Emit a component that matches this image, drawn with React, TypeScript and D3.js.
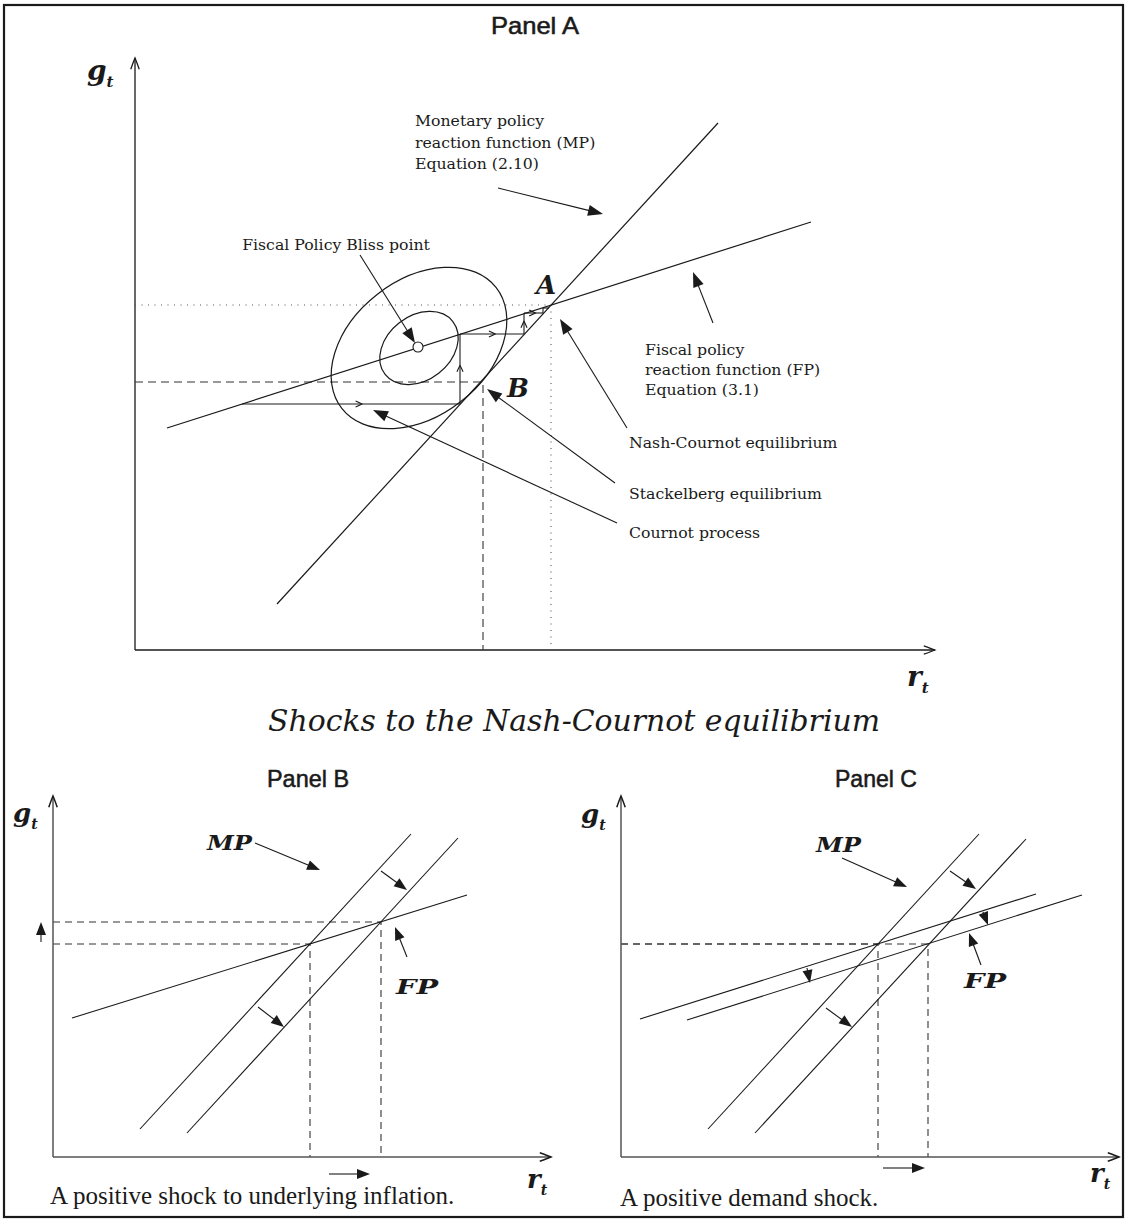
import React from "react";
import * as d3 from "d3";

type P = [number, number];
type Seg = [P, P];

// ---------- Panel A (r, g measured from the origin, diagram units) ----------
const axisMaxA: P = [800, 592];
const mpLineA: Seg = [[142, 46], [583, 527]];
const fpLineA: Seg = [[32, 222], [676, 428]];
const nashPointA: P = [416, 345];
const stackelbergPointB: P = [348, 268];
const blissPoint: P = [283, 303];
const blissRadius = 5;
const indifferenceCurves = [
  { c: [284, 302] as P, a: 43, b: 32, angle: 38 },
  { c: [284, 302] as P, a: 98, b: 68, angle: 38 },
];
const cournotSteps: P[] = [
  [107, 246], [325, 246], [325, 316], [389, 316], [389, 337],
  [408, 337], [408, 342], [414, 342],
];
const annotationArrowsA: Seg[] = [
  [[363, 462], [468, 436]], // MP
  [[225, 395], [280, 307]], // Bliss point
  [[578, 327], [558, 378]], // FP
  [[492, 222], [425, 331]], // Nash-Cournot
  [[480, 167], [352, 261]], // Stackelberg
  [[482, 127], [238, 240]], // Cournot process
];
const mpTextA = ["Monetary policy", "reaction function (MP)", "Equation (2.10)"];
const fpTextA = ["Fiscal policy", "reaction function (FP)", "Equation (3.1)"];
const calloutsA = ["Nash-Cournot equilibrium", "Stackelberg equilibrium", "Cournot process"];

// ---------- Panel B ----------
const axisMaxBC: P = [498, 361];
const fpLineB: Seg = [[19, 139], [414, 262]];
const mpLinesB: Seg[] = [
  [[87, 28], [358, 323]],
  [[134, 24], [405, 319]],
];
const equilibriaB: P[] = [[257, 213], [328, 235]];
const annotationArrowsB: Seg[] = [
  [[202, 314], [267, 287]], // MP label
  [[328, 286], [354, 267]], // MP shift (upper)
  [[205, 150], [231, 130]], // MP shift (lower)
  [[354, 200], [342, 230]], // FP label
  [[276, -17], [317, -17]], // r shift
  [[-12, 215], [-12, 235]], // g shift
];

// ---------- Panel C ----------
const fpLinesC: Seg[] = [
  [[19, 138], [415, 263]],
  [[66, 137], [461, 262]],
];
const mpLinesC: Seg[] = [
  [[87, 28], [358, 323]],
  [[134, 24], [405, 318]],
];
const equilibriaC: P[] = [[257, 213], [307, 213]];
const annotationArrowsC: Seg[] = [
  [[221, 299], [286, 270]], // MP label
  [[329, 286], [355, 268]], // MP shift (upper)
  [[205, 149], [231, 130]], // MP shift (lower)
  [[362, 245], [367, 232]], // FP shift (upper)
  [[186, 189], [189, 174]], // FP shift (lower)
  [[360, 192], [348, 224]], // FP label
  [[262, -11], [304, -11]], // r shift
];

// ---------- scales ----------
const xA = d3.scaleLinear().domain([0, axisMaxA[0]]).range([135, 935]);
const yA = d3.scaleLinear().domain([0, axisMaxA[1]]).range([650, 58]);
const xB = d3.scaleLinear().domain([0, axisMaxBC[0]]).range([53, 551]);
const yB = d3.scaleLinear().domain([0, axisMaxBC[1]]).range([1157, 796]);
const xC = d3.scaleLinear().domain([0, axisMaxBC[0]]).range([621, 1119]);
const yC = d3.scaleLinear().domain([0, axisMaxBC[1]]).range([1157, 796]);

type S = d3.ScaleLinear<number, number>;

const INK = "#1a1a1a";
const SERIF = "'DejaVu Serif', serif";
const TIMES = "'Liberation Serif', 'Times New Roman', serif";
const SANS = "'Liberation Sans Narrow', 'Liberation Sans', Arial, sans-serif";

function pathOf(pts: P[], sx: S, sy: S) {
  return d3.line<P>().x((d) => sx(d[0])).y((d) => sy(d[1]))(pts) || "";
}

function FilledArrow({ seg, sx, sy, len = 13, half = 4.6, sw = 1 }: { seg: Seg; sx: S; sy: S; len?: number; half?: number; sw?: number }) {
  const x1 = sx(seg[0][0]), y1 = sy(seg[0][1]);
  const x2 = sx(seg[1][0]), y2 = sy(seg[1][1]);
  const L = Math.hypot(x2 - x1, y2 - y1);
  const ux = (x2 - x1) / L, uy = (y2 - y1) / L;
  const bx = x2 - ux * len, by = y2 - uy * len;
  const nx = -uy, ny = ux;
  return (
    <g>
      <line x1={x1} y1={y1} x2={bx + ux * 2} y2={by + uy * 2} stroke={INK} strokeWidth={sw} />
      <polygon
        points={`${x2},${y2} ${bx + nx * half},${by + ny * half} ${bx - nx * half},${by - ny * half}`}
        fill={INK}
      />
    </g>
  );
}

function OpenHead({ x, y, ux, uy, len = 7, spread = 0.42, sw = 1 }: { x: number; y: number; ux: number; uy: number; len?: number; spread?: number; sw?: number }) {
  const c = Math.cos(spread), s = Math.sin(spread);
  const ax = -ux, ay = -uy;
  const r1x = ax * c - ay * s, r1y = ax * s + ay * c;
  const r2x = ax * c + ay * s, r2y = -ax * s + ay * c;
  const d = `M${x + r1x * len},${y + r1y * len} Q${x + r1x * len * 0.35 + ux * 0.5},${y + r1y * len * 0.35 + uy * 0.5} ${x},${y} Q${x + r2x * len * 0.35 + ux * 0.5},${y + r2y * len * 0.35 + uy * 0.5} ${x + r2x * len},${y + r2y * len}`;
  return <path d={d} fill="none" stroke={INK} strokeWidth={sw} />;
}

function Axes({ sx, sy, max, color = INK, sw = 1.3 }: { sx: S; sy: S; max: P; color?: string; sw?: number }) {
  const ox = sx(0), oy = sy(0);
  const tx = sx(max[0]), ty = sy(max[1]);
  return (
    <g stroke={color}>
      <line x1={ox} y1={oy} x2={tx} y2={oy} strokeWidth={sw} />
      <line x1={ox} y1={oy} x2={ox} y2={ty} strokeWidth={sw} />
      <g>
        <OpenHead x={tx} y={oy} ux={1} uy={0} len={12} spread={0.36} sw={sw} />
        <OpenHead x={ox} y={ty} ux={0} uy={-1} len={12} spread={0.36} sw={sw} />
      </g>
    </g>
  );
}

function MathLabel({ x, y, main, sub, size = 28, subSize = 16, dx = 0 }: { x: number; y: number; main: string; sub?: string; size?: number; subSize?: number; dx?: number }) {
  return (
    <text x={x} y={y} fontFamily={SERIF} fontWeight="bold" fontStyle="italic" fontSize={size} fill={INK}>
      {main}
      {sub ? (
        <tspan dx={dx} dy={size * 0.25} fontSize={subSize} fontWeight="bold">
          {sub}
        </tspan>
      ) : null}
    </text>
  );
}

function PanelTitle({ x, y, text, w }: { x: number; y: number; text: string; w: number }) {
  return (
    <text x={x} y={y} textAnchor="middle" fontFamily={SANS} fontSize={24} fill={INK} stroke={INK} strokeWidth={0.55} textLength={w} lengthAdjust="spacingAndGlyphs">
      {text}
    </text>
  );
}

function PanelA() {
  const sx = xA, sy = yA;
  const [rA, gA] = nashPointA;
  const [rB, gB] = stackelbergPointB;
  const steps: JSX.Element[] = [];
  for (let i = 0; i < cournotSteps.length - 1; i++) {
    const p = cournotSteps[i], q = cournotSteps[i + 1];
    const x1 = sx(p[0]), y1 = sy(p[1]), x2 = sx(q[0]), y2 = sy(q[1]);
    const L = Math.hypot(x2 - x1, y2 - y1);
    steps.push(<line key={"s" + i} x1={x1} y1={y1} x2={x2} y2={y2} stroke={INK} strokeWidth={1.1} />);
    if (L > 9) {
      const t = L > 40 ? 0.55 : 0.6;
      steps.push(
        <OpenHead key={"h" + i} x={x1 + (x2 - x1) * t} y={y1 + (y2 - y1) * t} ux={(x2 - x1) / L} uy={(y2 - y1) / L} len={7} spread={0.45} sw={1.1} />
      );
    }
  }
  return (
    <g>
      <PanelTitle x={535} y={34} text="Panel A" w={88} />
      <Axes sx={sx} sy={sy} max={axisMaxA} />
      <MathLabel x={87} y={80} main="g" sub="t" size={28} subSize={15} />
      <MathLabel x={907} y={686} main="r" sub="t" size={28} subSize={15} />

      <path d={pathOf([[0, gA], [rA, gA], [rA, 0]], sx, sy)} fill="none" stroke="#555" strokeWidth={1.1} strokeDasharray="1 5.5" />
      <path d={pathOf([[0, gB], [rB, gB], [rB, 0]], sx, sy)} fill="none" stroke="#333" strokeWidth={1.1} strokeDasharray="8 5" />

      {indifferenceCurves.map((e, i) => (
        <ellipse
          key={i}
          cx={sx(e.c[0])}
          cy={sy(e.c[1])}
          rx={sx(e.a) - sx(0)}
          ry={sy(0) - sy(e.b)}
          transform={`rotate(${-e.angle} ${sx(e.c[0])} ${sy(e.c[1])})`}
          fill="none"
          stroke={INK}
          strokeWidth={1.2}
        />
      ))}

      <path d={pathOf(mpLineA, sx, sy)} stroke={INK} strokeWidth={1.2} fill="none" />
      <path d={pathOf(fpLineA, sx, sy)} stroke={INK} strokeWidth={1.2} fill="none" />

      {steps}

      <circle cx={sx(blissPoint[0])} cy={sy(blissPoint[1])} r={blissRadius} fill="#fff" stroke={INK} strokeWidth={1.1} />

      {annotationArrowsA.map((s, i) => (
        <FilledArrow key={i} seg={s} sx={sx} sy={sy} len={15} half={5.5} sw={1.1} />
      ))}

      <text x={536} y={294} fontFamily={SERIF} fontWeight="bold" fontStyle="italic" fontSize={26} fill={INK}>A</text>
      <text x={507} y={397} fontFamily={SERIF} fontWeight="bold" fontStyle="italic" fontSize={26} fill={INK}>B</text>

      <g fontFamily={SERIF} fontSize={15.7} fill={INK}>
        {mpTextA.map((t, i) => (
          <text key={t} x={415} y={126 + i * 21.5}>{t}</text>
        ))}
        <text x={336} y={250} textAnchor="middle">Fiscal Policy Bliss point</text>
        {fpTextA.map((t, i) => (
          <text key={t} x={645} y={355 + i * 20}>{t}</text>
        ))}
        <text x={629} y={448}>{calloutsA[0]}</text>
        <text x={629} y={499}>{calloutsA[1]}</text>
        <text x={629} y={538}>{calloutsA[2]}</text>
      </g>
    </g>
  );
}

function ShockPanel({
  sx, sy, title, titleX, mpLines, fpLines, equilibria, arrows, mpLabel, fpLabel, gLabel, rLabel, caption, captionX, captionY,
}: {
  sx: S; sy: S; title: string; titleX: number; mpLines: Seg[]; fpLines: Seg[]; equilibria: P[]; arrows: Seg[];
  mpLabel: P; fpLabel: P; gLabel: P; rLabel: P; caption: string; captionX: number; captionY: number;
}) {
  return (
    <g>
      <PanelTitle x={titleX} y={787} text={title} w={82} />
      {equilibria.map((e, i) => (
        <path key={i} d={pathOf([[0, e[1]], e, [e[0], 0]], sx, sy)} fill="none" stroke="#333" strokeWidth={1.1} strokeDasharray="7 5" />
      ))}
      <Axes sx={sx} sy={sy} max={axisMaxBC} color="#555" sw={1.5} />
      {mpLines.map((l, i) => (
        <path key={"m" + i} d={pathOf(l, sx, sy)} stroke={INK} strokeWidth={1.1} fill="none" />
      ))}
      {fpLines.map((l, i) => (
        <path key={"f" + i} d={pathOf(l, sx, sy)} stroke={INK} strokeWidth={1.1} fill="none" />
      ))}
      {arrows.map((s, i) => (
        <FilledArrow key={i} seg={s} sx={sx} sy={sy} len={13} half={5} sw={1.1} />
      ))}
      <text x={mpLabel[0]} y={mpLabel[1]} fontFamily={SERIF} fontWeight="bold" fontStyle="italic" fontSize={21} fill={INK} textLength={45} lengthAdjust="spacingAndGlyphs">MP</text>
      <text x={fpLabel[0]} y={fpLabel[1]} fontFamily={SERIF} fontWeight="bold" fontStyle="italic" fontSize={21} fill={INK} textLength={42} lengthAdjust="spacingAndGlyphs">FP</text>
      <MathLabel x={gLabel[0]} y={gLabel[1]} main="g" sub="t" size={26} subSize={14} />
      <MathLabel x={rLabel[0]} y={rLabel[1]} main="r" sub="t" size={26} subSize={14} />
      <text x={captionX} y={captionY} fontFamily={TIMES} fontSize={25} fill={INK}>{caption}</text>
    </g>
  );
}

export default function App() {
  return (
    <svg width={1126} height={1220} viewBox="0 0 1126 1220" style={{ position: "absolute", left: 0, top: 0, background: "#fff" }}>
      <rect x={0} y={0} width={1126} height={1220} fill="#fff" />
      <rect x={4} y={5} width={1119} height={1212} fill="none" stroke={INK} strokeWidth={2.2} />
      <PanelA />
      <text x={574} y={731} textAnchor="middle" fontFamily={SERIF} fontStyle="italic" fontSize={29} fill={INK} textLength={612} lengthAdjust="spacingAndGlyphs">
        Shocks to the Nash-Cournot equilibrium
      </text>
      <ShockPanel
        sx={xB} sy={yB} title="Panel B" titleX={308}
        mpLines={mpLinesB} fpLines={[fpLineB]} equilibria={equilibriaB} arrows={annotationArrowsB}
        mpLabel={[207, 850]} fpLabel={[396, 994]} gLabel={[13, 822]} rLabel={[527, 1188]}
        caption="A positive shock to underlying inflation." captionX={50} captionY={1204}
      />
      <ShockPanel
        sx={xC} sy={yC} title="Panel C" titleX={876}
        mpLines={mpLinesC} fpLines={fpLinesC} equilibria={equilibriaC} arrows={annotationArrowsC}
        mpLabel={[816, 852]} fpLabel={[964, 988]} gLabel={[581, 823]} rLabel={[1090, 1182]}
        caption="A positive demand shock." captionX={620} captionY={1206}
      />
    </svg>
  );
}
